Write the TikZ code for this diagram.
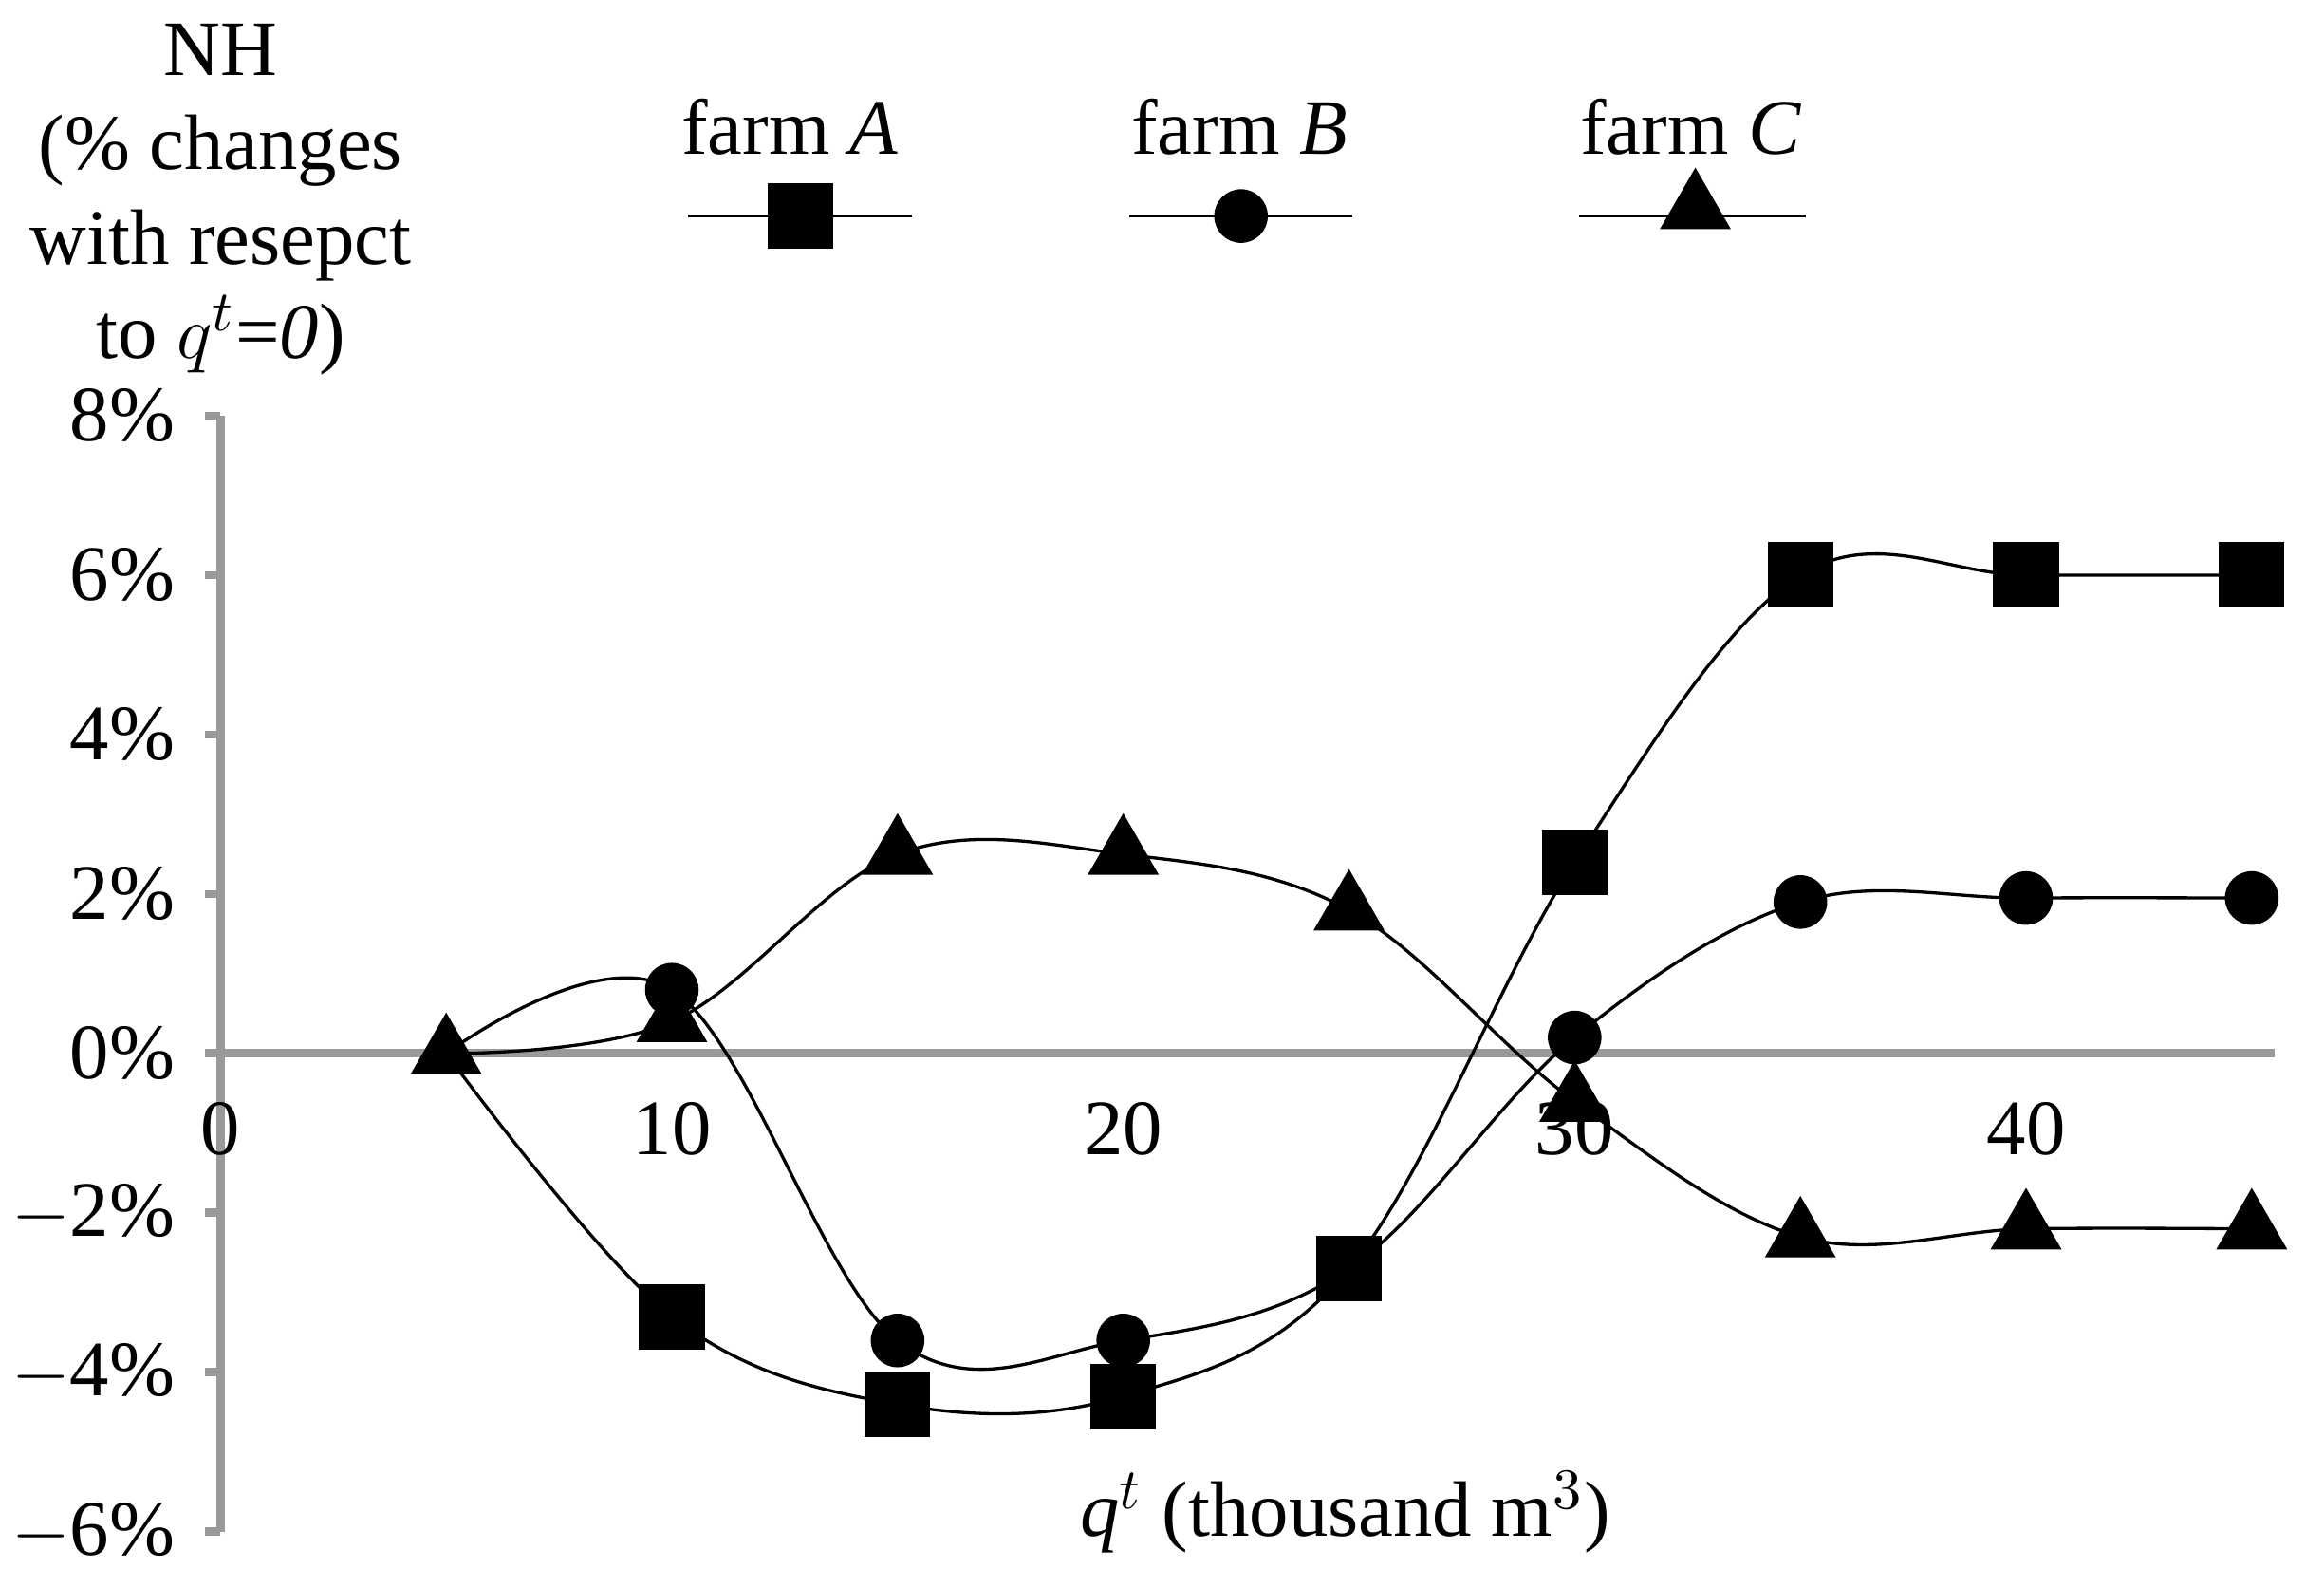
\documentclass[tikz,border=0pt]{standalone}
\usepackage{fontspec}
\setmainfont{Liberation Serif}
\usetikzlibrary{shapes.geometric, positioning}
\begin{document}
\begin{tikzpicture}[
  every node/.style = {font=\fontsize{15}{18}\selectfont},
  axis/.style = {draw=gray!80, line width=1.6pt},
  curve/.style = {draw, line width=0.6pt},
  sq/.style = {fill, rectangle, minimum size=0.44cm, inner sep=0pt},
  ci/.style = {fill, circle, minimum size=0.36cm, inner sep=0pt},
  tri/.style = {fill, regular polygon, regular polygon sides=3, minimum size=0.55cm, inner sep=0pt}]
\useasboundingbox (0,0) rectangle (15.6,10.65);
\begin{scope}[shift={(1.48,3.58)}, x=0.303cm, y=0.535cm]
% axes
\draw[axis] (0,-6) -- (0,8);
\foreach \v in {-6,-4,...,8} \draw[axis] (0,\v) -- (-0.35,\v);
\draw[axis] (0,0) -- (45.5,0);
\foreach \v/\t in {-6/$-$6\%,-4/$-$4\%,-2/$-$2\%,0/0\%,2/2\%,4/4\%,6/6\%,8/8\%}
  \node[anchor=east] (y\v) at (-0.6,\v) {\t};
\foreach \v in {0,10,20,30,40}
  \node (x\v) at (\v,-0.95) {\v};
% data
\foreach \x/\a/\b/\c [count=\i] in {5/0/0/0, 10/-3.3/0.8/0.4, 15/-4.4/-3.6/2.5, 20/-4.3/-3.6/2.5,
  25/-2.7/-2.7/1.8, 30/2.4/0.2/-0.6, 35/6/1.9/-2.3, 40/6/1.95/-2.2, 45/6/1.95/-2.2} {
  \coordinate (a\i) at (\x,\a);
  \coordinate (b\i) at (\x,\b);
  \coordinate (c\i) at (\x,\c);
}
\draw[curve] plot[smooth, tension=0.6] coordinates {(a1) (a2) (a3) (a4) (a5) (a6) (a7) (a8) (a9)};
\draw[curve] plot[smooth, tension=0.6] coordinates {(b1) (b2) (b3) (b4) (b5) (b6) (b7) (b8) (b9)};
\draw[curve] plot[smooth, tension=0.6] coordinates {(c1) (c2) (c3) (c4) (c5) (c6) (c7) (c8) (c9)};
\foreach \i in {2,...,9} \node[sq] at (a\i) {};
\foreach \i in {2,...,9} \node[ci] at (b\i) {};
\foreach \i in {1,...,9} \node[tri] at (c\i) {};
\end{scope}
% titles
\node[align=center, font=\fontsize{15}{18}\selectfont] (ytitle) at (1.48,9.31)
  {NH\\(\% changes\\with resepct\\to $q^t$=\textit{0})};
\node (xtitle) at (9.03,0.5) {\textit{q}$^t$ (thousand m$^3$)};
% legend
\node (legA) at (5.3,9.8) {farm \textit{A}};
\node (legB) at (8.32,9.8) {farm \textit{B}};
\node (legC) at (11.35,9.8) {farm \textit{C}};
\coordinate (la1) at (4.62,9.2); \coordinate (la2) at (6.12,9.2);
\coordinate (lb1) at (7.58,9.2); \coordinate (lb2) at (9.08,9.2);
\coordinate (lc1) at (10.6,9.2); \coordinate (lc2) at (12.12,9.2);
\draw[curve] (la1) -- (la2);
\draw[curve] (lb1) -- (lb2);
\draw[curve] (lc1) -- (lc2);
\node[sq] (mA) at (5.37,9.2) {};
\node[ci] (mB) at (8.33,9.2) {};
\node[tri] (mC) at (11.38,9.25) {};
\end{tikzpicture}
\end{document}
